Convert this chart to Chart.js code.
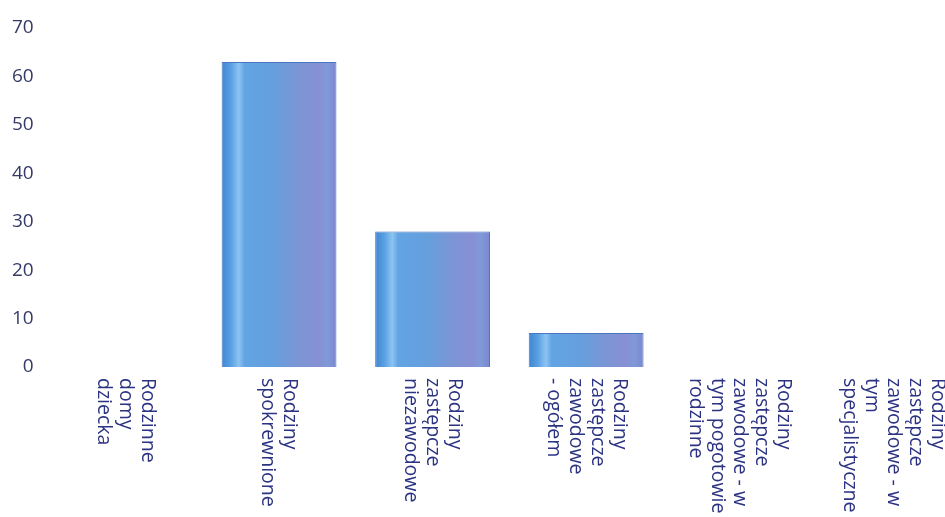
<!DOCTYPE html>
<html lang="pl">
<head>
  <meta charset="UTF-8" />
  <title>Rodzinna piecza zastępcza</title>
  <script src="https://cdn.jsdelivr.net/npm/chart.js"></script>
  <style>
    html, body {
      margin: 0;
      padding: 0;
      background: #fff;
      overflow: hidden;
    }
    .wrap {
      position: relative;
      width: 972px;
      height: 517px;
    }
  </style>
</head>
<body>
  <div class="wrap">
    <canvas id="barChart"></canvas>
  </div>

  <script>
    // każda kategoria jako lista linii etykiety
    const categories = [
      ['Rodzinne', 'domy', 'dziecka'],
      ['Rodziny', 'spokrewnione'],
      ['Rodziny', 'zastępcze', 'niezawodowe'],
      ['Rodziny', 'zastępcze', 'zawodowe', '- ogółem'],
      ['Rodziny', 'zastępcze', 'zawodowe - w', 'tym pogotowie', 'rodzinne'],
      ['Rodziny', 'zastępcze', 'zawodowe - w', 'tym', 'specjalistyczne']
    ];
    const values = [0, 63, 28, 7, 0, 0];
    const yTicks = [0, 10, 20, 30, 40, 50, 60, 70];

    const textColor = '#2b3382';
    const labelFont = '19.5px "Open Sans"';

    const BAR_PCT = 0.935;
    const CAT_PCT = 0.8;

    function barGradient(ctx) {
      const chart = ctx.chart;
      const x = chart.scales.x;
      if (!x || !chart.chartArea) return '#5e9ee0';
      const center = x.getPixelForValue(ctx.dataIndex);
      const w = (x.width / categories.length) * BAR_PCT * CAT_PCT;
      const g = chart.ctx.createLinearGradient(center - w / 2, 0, center + w / 2, 0);
      g.addColorStop(0, '#3f86d3');
      g.addColorStop(0.08, '#5a9fe2');
      g.addColorStop(0.15, '#8cc4f2');
      g.addColorStop(0.2, '#62a4e4');
      g.addColorStop(0.45, '#659fdd');
      g.addColorStop(0.65, '#7a96d6');
      g.addColorStop(0.85, '#8790d4');
      g.addColorStop(0.92, '#7f9ad8');
      g.addColorStop(1, '#7c86cf');
      return g;
    }

    // etykiety osi X obrócone zgodnie z ruchem wskazówek zegara
    const rotatedLabels = {
      id: 'rotatedLabels',
      afterDraw(chart) {
        const x = chart.scales.x;
        const c = chart.ctx;
        const top = chart.chartArea.bottom + 11;
        const lh = 22;
        c.save();
        c.font = labelFont;
        c.fillStyle = textColor;
        c.textAlign = 'left';
        c.textBaseline = 'middle';
        categories.forEach((lines, i) => {
          const px = x.getPixelForValue(i);
          c.save();
          c.translate(px, top);
          c.rotate(Math.PI / 2);
          const start = -(lines.length - 1) / 2 * lh;
          lines.forEach((line, j) => {
            c.fillText(line, 0, start + j * lh);
          });
          c.restore();
        });
        c.restore();
      }
    };

    new Chart(document.getElementById('barChart'), {
      type: 'bar',
      data: {
        labels: categories.map(l => l.join(' ')),
        datasets: [{
          data: values,
          backgroundColor: barGradient,
          borderColor: '#4a78c0',
          borderWidth: 1,
          barPercentage: BAR_PCT,
          categoryPercentage: CAT_PCT
        }]
      },
      options: {
        responsive: true,
        maintainAspectRatio: false,
        animation: false,
        layout: {
          padding: { top: 28, left: 5, right: 2, bottom: 142 }
        },
        plugins: {
          legend: { display: false },
          tooltip: { enabled: false }
        },
        scales: {
          x: {
            grid: { display: false },
            border: { display: false },
            ticks: { display: false }
          },
          y: {
            min: 0,
            max: 70,
            afterBuildTicks(scale) {
              scale.ticks = yTicks.map(v => ({ value: v }));
            },
            grid: { display: false },
            border: { display: false },
            ticks: {
              padding: 7,
              color: '#343a66',
              font: { family: 'Open Sans', size: 19 }
            }
          }
        }
      },
      plugins: [rotatedLabels]
    });
  </script>
</body>
</html>
